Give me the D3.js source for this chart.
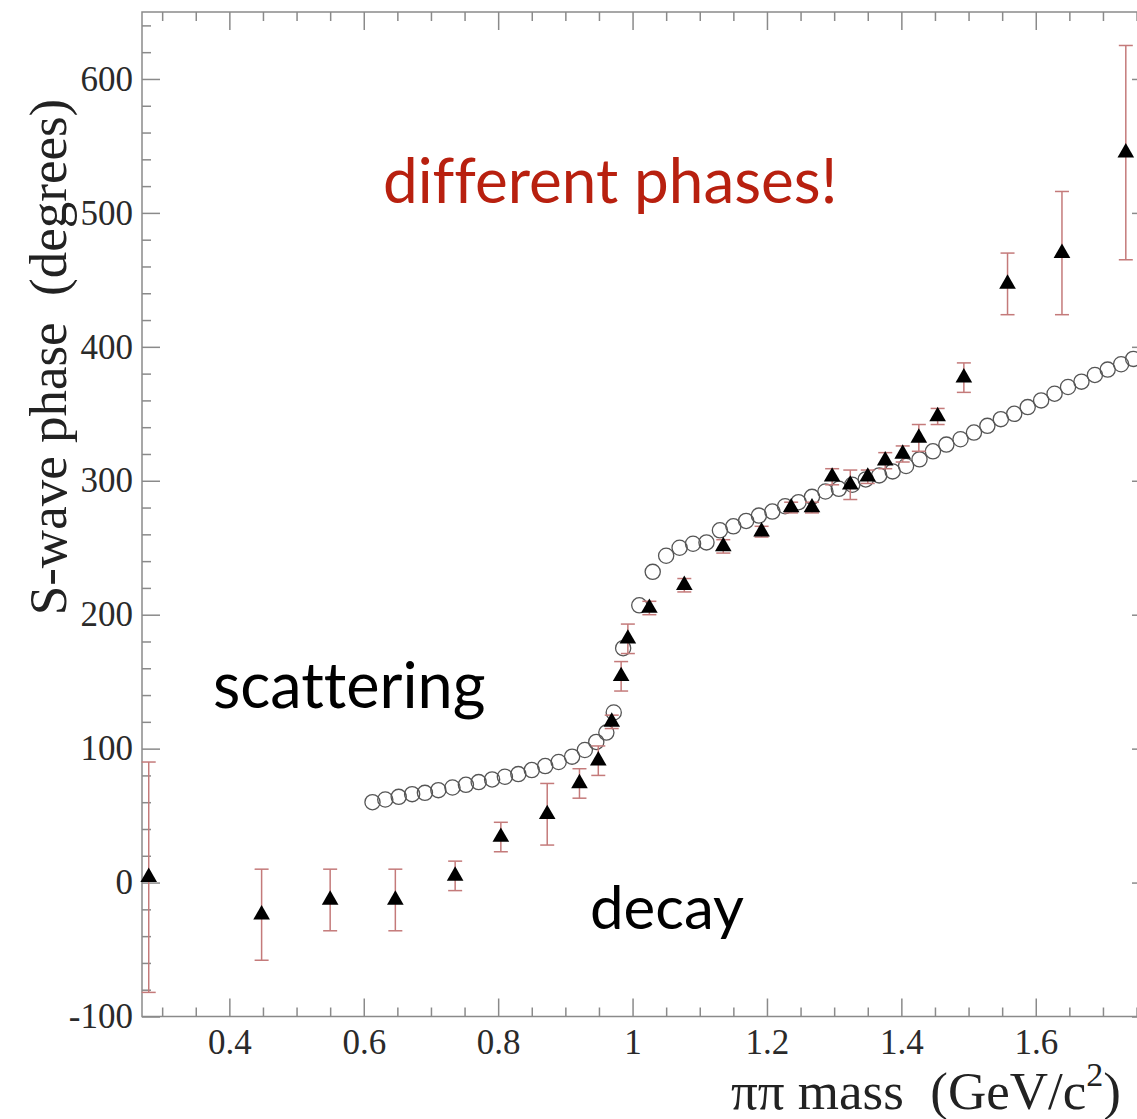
<!DOCTYPE html>
<html>
<head>
<meta charset="utf-8">
<script src="https://cdn.jsdelivr.net/npm/d3@7"></script>
<style>
  body { margin: 0; background: #fff; }
  svg { display: block; }
</style>
</head>
<body>
<svg id="chart"></svg>
<script>
// decay (triangles with error bars)
const decay_mass  = [0.280, 0.448, 0.550, 0.647, 0.736, 0.804, 0.873, 0.921, 0.949, 0.969,
                     0.983, 0.993, 1.025, 1.077, 1.135, 1.192, 1.236, 1.267, 1.297, 1.324,
                     1.350, 1.376, 1.402, 1.426, 1.454, 1.493, 1.558, 1.639, 1.734];
const decay_phase = [4, -24, -13, -13, 5, 34, 51, 74, 91, 120,
                     154, 182, 205, 222, 251, 262, 280, 280, 303, 297,
                     303, 315, 320, 332, 348, 377, 447, 470, 545];
const decay_error = [86, 34, 23, 23, 11, 11, 23, 11, 11, 5,
                     11, 11, 5, 5, 5, 4, 4, 4, 6, 11,
                     5, 6, 6, 10, 6, 11, 23, 46, 80];

// scattering (open circles)
const scatter_mass  = [0.613, 0.632, 0.652, 0.672, 0.691, 0.711, 0.732, 0.752, 0.771, 0.791,
                       0.810, 0.830, 0.850, 0.870, 0.890, 0.910, 0.929, 0.946, 0.961, 0.972,
                       0.986, 1.010, 1.030, 1.050, 1.070, 1.090, 1.110, 1.130, 1.150, 1.169,
                       1.188, 1.208, 1.227, 1.247, 1.267, 1.287, 1.307, 1.327, 1.347, 1.367,
                       1.387, 1.407, 1.427, 1.447, 1.467, 1.488, 1.508, 1.528, 1.548, 1.568,
                       1.588, 1.608, 1.628, 1.648, 1.668, 1.688, 1.707, 1.727, 1.745];
const scatter_phase = [60, 62, 64, 66, 67, 69, 71, 73, 75, 77,
                       79, 81, 84, 87, 90, 94, 99, 105, 112, 127,
                       175, 207, 232, 244, 250, 253, 254, 263, 266, 270,
                       274, 277, 281, 284, 288, 292, 294, 297, 301, 304,
                       307, 311, 316, 322, 327, 331, 336, 341, 346, 350,
                       355, 360, 365, 370, 374, 379, 383, 387, 391];

const x_tick_labels = [0.4, 0.6, 0.8, 1, 1.2, 1.4, 1.6];
const y_tick_labels = [-100, 0, 100, 200, 300, 400, 500, 600];

const W = 1137, H = 1119;
const frame = { left: 142, right: 1150, top: 12, bottom: 1016.5 };
const axis_grey = "#8a8a8a";
const serif = "'Liberation Serif', 'DejaVu Serif', serif";
const sans = "Lato, 'Open Sans', sans-serif";

function get_svg() {
    return d3.select("#chart").attr("width", W).attr("height", H);
}

function style_axis(g) {
    g.select(".domain").remove();
    g.selectAll("line").attr("stroke", axis_grey).attr("stroke-width", 1.5);
    g.selectAll("text")
        .attr("fill", "#2a2a2a")
        .style("font-family", serif)
        .style("font-size", "35px");
}

function add_axis(svg, axis, transform) {
    svg.append("g")
        .attr("transform", transform)
        .call(axis)
        .call(style_axis);
}

function draw_axes(svg, x, y) {
    const plain = d => String(d);
    const x_minor = x.ticks(30).filter(v => !x_tick_labels.some(t => Math.abs(t - v) < 1e-6));
    const y_minor = y.ticks(38).filter(v => v % 100 !== 0);
    const bottom = `translate(0,${frame.bottom})`;
    const top = `translate(0,${frame.top})`;
    const left = `translate(${frame.left},0)`;
    const right = `translate(${frame.right},0)`;

    // major ticks, labels only on bottom and left
    add_axis(svg, d3.axisBottom(x).tickValues(x_tick_labels).tickSize(-18).tickPadding(13).tickFormat(plain), bottom);
    add_axis(svg, d3.axisLeft(y).tickValues(y_tick_labels).tickSize(-18).tickPadding(9).tickFormat(plain), left);
    add_axis(svg, d3.axisTop(x).tickValues(x_tick_labels).tickSize(-18).tickFormat(""), top);
    add_axis(svg, d3.axisRight(y).tickValues(y_tick_labels).tickSize(-18).tickFormat(""), right);

    // minor ticks
    add_axis(svg, d3.axisBottom(x).tickValues(x_minor).tickSize(-9).tickFormat(""), bottom);
    add_axis(svg, d3.axisTop(x).tickValues(x_minor).tickSize(-9).tickFormat(""), top);
    add_axis(svg, d3.axisLeft(y).tickValues(y_minor).tickSize(-9).tickFormat(""), left);
    add_axis(svg, d3.axisRight(y).tickValues(y_minor).tickSize(-9).tickFormat(""), right);

    svg.append("rect")
        .attr("x", frame.left)
        .attr("y", frame.top)
        .attr("width", frame.right - frame.left)
        .attr("height", frame.bottom - frame.top)
        .attr("fill", "none")
        .attr("stroke", axis_grey)
        .attr("stroke-width", 1.5);
}

function draw_axis_titles(svg) {
    svg.append("text")
        .attr("transform", "translate(66,357) rotate(-90)")
        .attr("text-anchor", "middle")
        .style("font-family", serif)
        .style("font-size", "53px")
        .style("white-space", "pre")
        .attr("fill", "#222")
        .text("S-wave phase  (degrees)");

    const xt = svg.append("text")
        .attr("x", 1121)
        .attr("y", 1109)
        .attr("text-anchor", "end")
        .style("font-family", serif)
        .style("font-size", "53px")
        .style("white-space", "pre")
        .attr("fill", "#222");
    xt.append("tspan").text("\u03c0\u03c0 mass  (GeV/c");
    xt.append("tspan").attr("dy", -23).style("font-size", "34px").text("2");
    xt.append("tspan").attr("dy", 23).text(")");
}

function draw_scattering(svg, x, y) {
    svg.append("g")
        .selectAll("circle")
        .data(d3.zip(scatter_mass, scatter_phase))
        .enter().append("circle")
        .attr("cx", d => x(d[0]))
        .attr("cy", d => y(d[1]))
        .attr("r", 7.6)
        .attr("fill", "none")
        .attr("stroke", "#555")
        .attr("stroke-width", 1.3);
}

function draw_decay(svg, x, y) {
    const points = decay_mass.map((m, i) => ({ m: m, p: decay_phase[i], e: decay_error[i] }));
    const bar_color = "#c47a7a";
    const cap = 7;

    const bars = svg.append("g")
        .selectAll("g")
        .data(points)
        .enter().append("g")
        .attr("stroke", bar_color)
        .attr("stroke-width", 1.5);
    bars.append("line")
        .attr("x1", d => x(d.m)).attr("x2", d => x(d.m))
        .attr("y1", d => y(d.p - d.e)).attr("y2", d => y(d.p + d.e));
    bars.append("line")
        .attr("x1", d => x(d.m) - cap).attr("x2", d => x(d.m) + cap)
        .attr("y1", d => y(d.p + d.e)).attr("y2", d => y(d.p + d.e));
    bars.append("line")
        .attr("x1", d => x(d.m) - cap).attr("x2", d => x(d.m) + cap)
        .attr("y1", d => y(d.p - d.e)).attr("y2", d => y(d.p - d.e));

    svg.append("g")
        .selectAll("path")
        .data(points)
        .enter().append("path")
        .attr("d", d3.symbol(d3.symbolTriangle, 120))
        .attr("transform", d => `translate(${x(d.m)},${y(d.p)})`)
        .attr("fill", "#000");
}

function add_label(svg, txt, px, py, size, color) {
    svg.append("text")
        .attr("x", px).attr("y", py)
        .style("font-family", sans)
        .style("font-size", size + "px")
        .style("font-variant-ligatures", "none")
        .attr("fill", color)
        .text(txt);
}

function draw_annotations(svg) {
    add_label(svg, "different phases!", 383, 203, 62, "#b8200f");
    add_label(svg, "scattering", 213, 708, 63, "#000");
    add_label(svg, "decay", 590, 929, 60, "#000");
}

function generate_chart() {
    const svg = get_svg();
    svg.selectAll("*").remove();

    const x = d3.scaleLinear().domain([0.27, 1.77]).range([frame.left, frame.right]);
    const y = d3.scaleLinear().domain([-100, 650]).range([frame.bottom, frame.top]);

    draw_axes(svg, x, y);
    draw_scattering(svg, x, y);
    draw_decay(svg, x, y);
    draw_axis_titles(svg);
    draw_annotations(svg);
}

generate_chart();
</script>
</body>
</html>
